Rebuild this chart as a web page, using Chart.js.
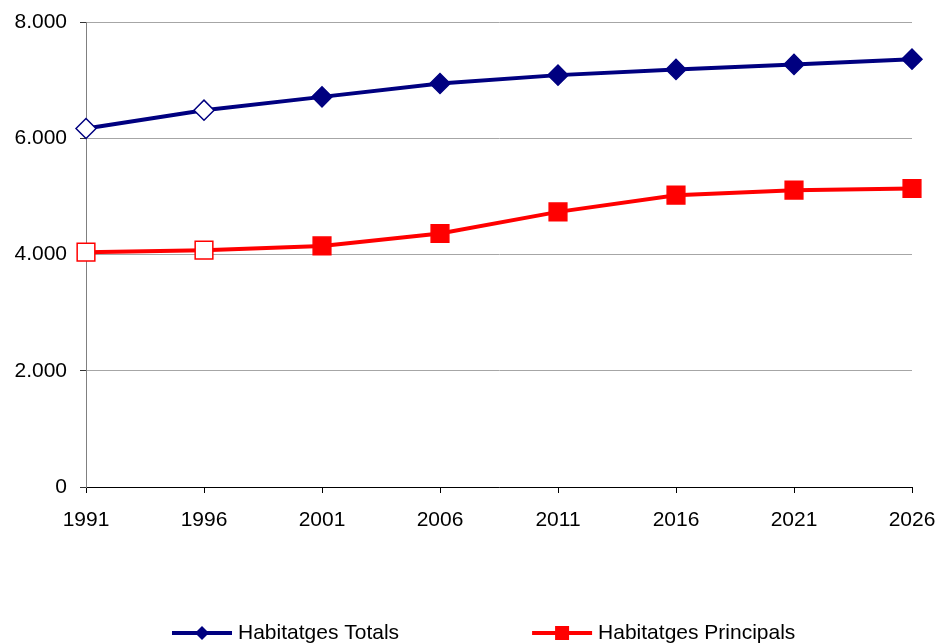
<!DOCTYPE html>
<html>
<head>
<meta charset="utf-8">
<script src="https://cdn.jsdelivr.net/npm/chart.js@4/dist/chart.umd.min.js"></script>
<style>
    html, body { margin: 0; padding: 0; background: #fff; }
    #wrap { width: 941px; height: 644px; }
</style>
</head>
<body>
<div id="wrap"><canvas id="habChart" width="941" height="644"></canvas></div>
<script>
'use strict';
var years = ['1991', '1996', '2001', '2006', '2011', '2016', '2021', '2026'];
var habitatgesTotals = [6168, 6483, 6712, 6943, 7086, 7184, 7270, 7361];
var habitatgesPrincipals = [4040, 4074, 4148, 4361, 4733, 5020, 5107, 5136];
var yTicks = [0, 2000, 4000, 6000, 8000];

(function habitatges () {
    var FONT = { family: '"Liberation Sans", Arial, sans-serif', size: 21 };
    var NAVY = '#000080';
    var RED = '#ff0000';

    function fmt (v) {
        return String(v).replace(/\B(?=(\d{3})+(?!\d))/g, '.');
    }

    // first two points are hollow in the original
    function hollow (color) {
        return function (c) { return c.dataIndex < 2 ? '#ffffff' : color; };
    }

    function drawMarker (ctx, style, x, y, color) {
        ctx.fillStyle = color;
        ctx.beginPath();
        if (style === 'rectRot') {
            ctx.moveTo(x, y - 7);
            ctx.lineTo(x + 7, y);
            ctx.lineTo(x, y + 7);
            ctx.lineTo(x - 7, y);
            ctx.closePath();
        } else {
            ctx.rect(x - 7, y - 7, 14, 14);
        }
        ctx.fill();
    }

    var lineLegend = {
        id: 'lineLegend',
        afterDraw: function (chart) {
            var ctx = chart.ctx;
            var x = 172;
            var y = 633;
            ctx.save();
            ctx.font = FONT.size + 'px ' + FONT.family;
            ctx.textBaseline = 'middle';
            chart.data.datasets.forEach(function (ds) {
                ctx.strokeStyle = ds.borderColor;
                ctx.lineWidth = 4;
                ctx.beginPath();
                ctx.moveTo(x, y);
                ctx.lineTo(x + 60, y);
                ctx.stroke();
                drawMarker(ctx, ds.pointStyle, x + 30, y, ds.borderColor);
                ctx.fillStyle = '#000';
                ctx.fillText(ds.label, x + 66, y);
                x += 66 + ctx.measureText(ds.label).width + 133;
            });
            ctx.restore();
        }
    };

    var ctx = document.getElementById('habChart').getContext('2d');

    new Chart(ctx, {
        type: 'line',
        data: {
            labels: years,
            datasets: [{
                label: 'Habitatges Totals',
                data: habitatgesTotals,
                borderColor: NAVY,
                borderWidth: 4,
                pointStyle: 'rectRot',
                pointRadius: 10,
                pointBorderWidth: 1.5,
                pointBorderColor: NAVY,
                pointBackgroundColor: hollow(NAVY),
                tension: 0
            }, {
                label: 'Habitatges Principals',
                data: habitatgesPrincipals,
                borderColor: RED,
                borderWidth: 4,
                pointStyle: 'rect',
                pointRadius: 12.5,
                pointBorderWidth: 1.5,
                pointBorderColor: RED,
                pointBackgroundColor: hollow(RED),
                tension: 0
            }]
        },
        options: {
            responsive: false,
            animation: false,
            devicePixelRatio: 1,
            layout: { padding: { top: 22, right: 29, left: 0, bottom: 0 } },
            plugins: {
                legend: { display: false },
                tooltip: { enabled: false }
            },
            scales: {
                x: {
                    offset: false,
                    grid: { drawOnChartArea: false, tickLength: 6, tickColor: '#000' },
                    border: { color: '#000', width: 1 },
                    ticks: { font: FONT, color: '#000', padding: 15, maxRotation: 0, autoSkip: false },
                    afterFit: function (s) {
                        s.height = 157;
                        s.paddingLeft = 0;
                        s.paddingRight = 0;
                    }
                },
                y: {
                    min: 0,
                    max: 8000,
                    afterBuildTicks: function (s) {
                        s.ticks = yTicks.map(function (v) { return { value: v }; });
                    },
                    grid: { color: '#a6a6a6', lineWidth: 1, tickLength: 6, tickColor: '#333' },
                    border: { color: '#808080', width: 1 },
                    ticks: { font: FONT, color: '#000', padding: 13, callback: fmt },
                    afterFit: function (s) {
                        s.width = 86;
                        s.paddingTop = 0;
                        s.paddingBottom = 0;
                    }
                }
            }
        },
        plugins: [lineLegend]
    });
}());
</script>
</body>
</html>
